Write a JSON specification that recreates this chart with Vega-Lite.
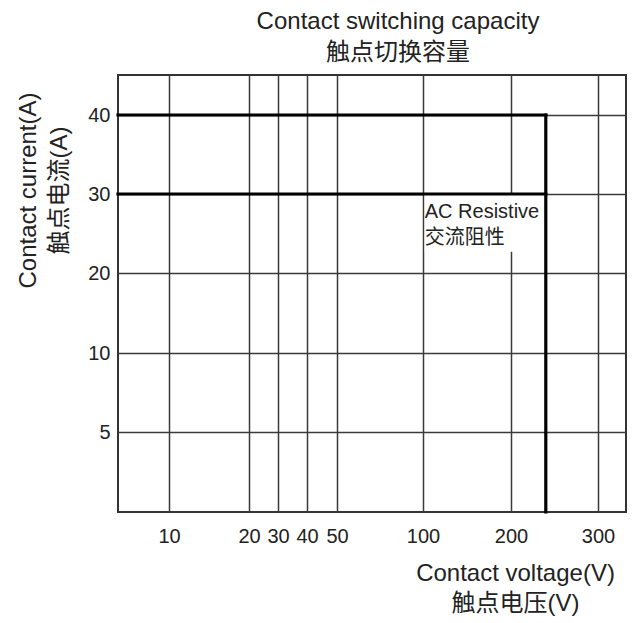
{
  "$schema": "https://vega.github.io/schema/vega-lite/v6.json",
  "width": 508,
  "height": 437,
  "autosize": {"type": "none"},
  "padding": {"left": 118, "top": 75, "right": 8, "bottom": 111},
  "background": "white",
  "config": {
    "font": "Liberation Sans, Noto Sans CJK SC",
    "view": {"stroke": "#333", "strokeWidth": 2}
  },
  "title": {
    "text": ["Contact switching capacity", "触点切换容量"],
    "fontSize": 24,
    "fontWeight": "normal",
    "color": "#222",
    "anchor": "middle",
    "frame": "group",
    "baseline": "alphabetic",
    "offset": 15,
    "dx": 26,
    "dy": 24,
    "lineHeight": 31
  },
  "encoding": {
    "x": {
      "field": "v",
      "type": "quantitative",
      "scale": {
        "type": "linear",
        "domain": [5, 10, 20, 30, 40, 50, 100, 200, 300, 350],
        "range": [0, 51, 131, 160, 189, 219, 305, 393, 480, 508],
        "nice": false,
        "zero": false
      },
      "axis": {
        "values": [10, 20, 30, 40, 50, 100, 200, 300],
        "format": "d",
        "grid": true,
        "gridColor": "#3a3a3a",
        "gridWidth": 1.5,
        "gridOpacity": 1,
        "ticks": false,
        "domain": false,
        "labelFontSize": 20,
        "labelColor": "#222",
        "labelPadding": 14,
        "labelOverlap": false,
        "labelFlush": false,
        "title": ["Contact voltage(V)", "触点电压(V)"],
        "titleFontSize": 24,
        "titleFontWeight": "normal",
        "titleColor": "#222",
        "titleX": 397,
        "titleY": 49,
        "titleAlign": "center",
        "titleBaseline": "top",
        "titleLineHeight": 30
      }
    },
    "y": {
      "field": "c",
      "type": "quantitative",
      "scale": {
        "type": "linear",
        "domain": [0, 5, 10, 20, 30, 40, 45],
        "range": [437, 357, 278, 198, 119, 40, 0],
        "nice": false,
        "zero": false
      },
      "axis": {
        "values": [5, 10, 20, 30, 40],
        "format": "d",
        "grid": true,
        "gridColor": "#3a3a3a",
        "gridWidth": 1.5,
        "gridOpacity": 1,
        "ticks": false,
        "domain": false,
        "labelFontSize": 20,
        "labelColor": "#222",
        "labelPadding": 8,
        "labelOverlap": false,
        "labelFlush": false,
        "title": ["Contact current(A)", "触点电流(A)"],
        "titleFontSize": 24,
        "titleFontWeight": "normal",
        "titleColor": "#222",
        "titleAngle": 270,
        "titleX": -102,
        "titleY": 115,
        "titleAlign": "center",
        "titleBaseline": "top",
        "titleLineHeight": 31
      }
    }
  },
  "layer": [
    {
      "data": {"values": [{"v": 102, "v2": 239, "c": 22.7, "c2": 29.9}]},
      "mark": {"type": "rect", "fill": "white", "stroke": null},
      "encoding": {"x2": {"field": "v2"}, "y2": {"field": "c2"}}
    },
    {
      "data": {"values": [
        {"v": 5, "v2": 240, "c": 40, "c2": 40},
        {"v": 5, "v2": 240, "c": 30, "c2": 30},
        {"v": 240, "v2": 240, "c": 0, "c2": 40}
      ]},
      "mark": {"type": "rule", "color": "black", "strokeWidth": 3.2, "strokeCap": "square"},
      "encoding": {"x2": {"field": "v2"}, "y2": {"field": "c2"}}
    },
    {
      "data": {"values": [{"v": 102, "c": 29, "label": "AC Resistive\n交流阻性"}]},
      "mark": {"type": "text", "align": "left", "baseline": "top", "fontSize": 20, "lineHeight": 26, "lineBreak": "\n", "color": "#222"},
      "encoding": {"text": {"field": "label"}}
    }
  ]
}
